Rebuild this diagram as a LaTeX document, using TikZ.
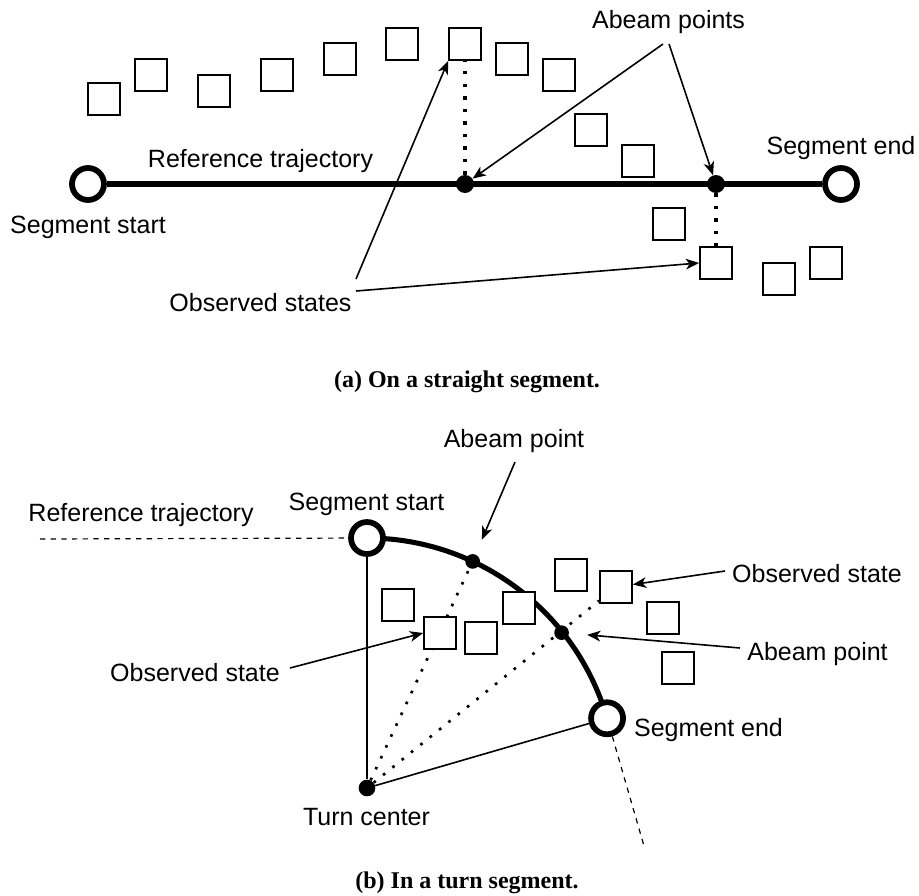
\documentclass[tikz,border=0pt]{standalone}
\usepackage{fontspec}
\setmainfont{Liberation Sans}
\newfontfamily\capfont{Liberation Serif}
\usetikzlibrary{arrows.meta,calc,backgrounds}
\begin{document}
\begin{tikzpicture}[x=0.75pt,y=-0.75pt,
  lab/.style={font=\fontsize{18.75pt}{22pt}\selectfont, inner sep=0, anchor=base},
  captxt/.style={font=\capfont\bfseries\fontsize{18pt}{21pt}\selectfont, inner sep=0, anchor=base},
  obs/.style={draw, fill=white, minimum size=24pt, inner sep=0, line width=1.3pt},
  endpt/.style={circle, draw, fill=white, line width=4.3pt, minimum size=24pt, inner sep=0},
  abeam/.style={circle, fill=black, minimum size=13.5pt, inner sep=0},
  traj/.style={line width=3.8pt},
  arr/.style={line width=1.2pt, -{Stealth[length=10pt,width=8pt,inset=2.8pt]}},
  dotA/.style={line width=2.6pt, dash pattern=on 2.6pt off 6.8pt},
  dotB/.style={line width=2pt, dash pattern=on 2pt off 7pt},
  dashB/.style={line width=0.9pt, dash pattern=on 4pt off 4pt},
  thinln/.style={line width=1.2pt}
]
\useasboundingbox (0,0) rectangle (919,895);

% ---------- (a) straight segment ----------
\node[endpt] (s1) at (88,184) {};
\node[endpt] (e1) at (841,184) {};
\node[abeam] (a1) at (465,184) {};
\node[abeam] (a2) at (716,184) {};
\node[obs] (q1) at (104,99) {};
\node[obs] (q2) at (151,75) {};
\node[obs] (q3) at (214,91) {};
\node[obs] (q4) at (277,75) {};
\node[obs] (q5) at (340,59) {};
\node[obs] (q6) at (402,44) {};
\node[obs] (q7) at (465,44) {};
\node[obs] (q8) at (512,59) {};
\node[obs] (q9) at (559,75) {};
\node[obs] (q10) at (591,130) {};
\node[obs] (q11) at (638,161) {};
\node[obs] (q12) at (669,224) {};
\node[obs] (q13) at (716,263) {};
\node[obs] (q14) at (779,279) {};
\node[obs] (q15) at (826,263) {};

\begin{scope}[on background layer]
  \draw[traj] (s1) -- (e1);
  \draw[dotA] (a1) -- (q7);
  \draw[dotA] (a2) -- (q13);
\end{scope}

\node[lab] (tA) at (88,233) {Segment start};
\node[lab] (tB) at (260.5,167) {Reference trajectory};
\node[lab] (tC) at (260.5,311) {Observed states};
\node[lab] (tD) at (668.5,28.5) {Abeam points};
\node[lab] (tE) at (841,154) {Segment end};

\coordinate (ap1) at (663,44);
\coordinate (ap2) at (669,44);
\coordinate (os1) at (356,279);
\coordinate (os2) at (356,291);
\draw[arr] (ap1) -- (a1);
\draw[arr] (ap2) -- (a2);
\draw[arr] (os1) -- (q7.south west);
\draw[arr] (os2) -- (q13.west);

\node[captxt] (capa) at (467,387) {(a) On a straight segment.};

% ---------- (b) turn segment ----------
\node[abeam, minimum size=12.5pt] (tc) at (367,788) {};
\node[endpt] (s2) at (367,538) {};
\node[endpt] (e2) at ($(367,788)+(-16.2:250)$) {};
\node[abeam, minimum size=11pt] (b1) at ($(367,788)+(-65:250)$) {};
\node[abeam, minimum size=11pt] (b2) at ($(367,788)+(-38.6:249)$) {};
\node[obs] (qA) at (398,605) {};
\node[obs] (qB) at (440,633) {};
\node[obs] (qC) at (481,638) {};
\node[obs] (qD) at (519,608) {};
\node[obs] (qE) at (571,575) {};
\node[obs] (qF) at (616,587) {};
\node[obs] (qG) at (663,618) {};
\node[obs] (qH) at (678,668) {};

\coordinate (rl) at (40,539);
\coordinate (te) at (644,846);
\begin{scope}[on background layer]
  \draw[dashB] (rl) -- (s2);
  \draw[dashB] (e2) -- (te);
  \draw[thinln] (tc) -- (s2);
  \draw[thinln] (tc) -- (e2);
  \draw[dotB] (tc) -- (b1);
  \draw[dotB] (tc) -- (qF);
  \draw[traj] (367,788) ++(-90:250) arc[start angle=-90, end angle=-16.2, radius=250];
\end{scope}

\node[lab] (uA) at (514,447) {Abeam point};
\node[lab] (uB) at (366.5,510) {Segment start};
\node[lab] (uC) at (141,521) {Reference trajectory};
\node[lab] (uD) at (195,681) {Observed state};
\node[lab] (uE) at (366.5,825) {Turn center};
\node[lab] (uF) at (817,582) {Observed state};
\node[lab] (uG) at (817.5,660) {Abeam point};
\node[lab] (uH) at (708.5,736) {Segment end};

\coordinate (la1) at (515,462);
\coordinate (la2) at (740,648);
\coordinate (lo1) at (290,668);
\coordinate (lo2) at (725,571);
\draw[arr, shorten >=12pt] (la1) -- (b1);
\draw[arr, shorten >=13.5pt] (la2) -- (b2);
\draw[arr] (lo1) -- (qB.west);
\draw[arr] (lo2) -- (qF);

\node[captxt] (capb) at (467,888) {(b) In a turn segment.};
\end{tikzpicture}
\end{document}
